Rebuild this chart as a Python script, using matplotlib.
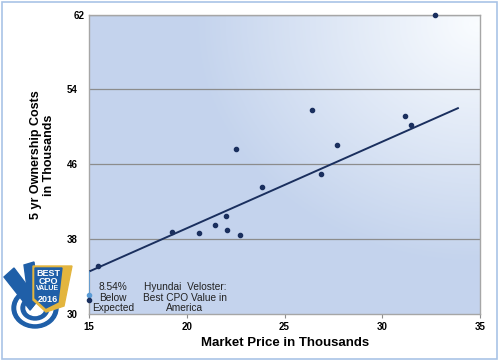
import numpy as np
import matplotlib
matplotlib.use('Agg')
import matplotlib.pyplot as plt
from matplotlib.patches import Rectangle, Polygon, Ellipse
from matplotlib.transforms import ScaledTranslation

plt.rcParams['font.family'] = ['Liberation Sans', 'DejaVu Sans']

# data
price = [15.0, 15.46, 19.24, 20.62, 21.47, 21.99, 22.07, 22.52, 22.74, 23.84,
         26.4, 26.85, 27.71, 31.17, 31.48, 32.7]
cost = [31.46, 35.1, 38.77, 38.58, 39.49, 40.49, 38.95, 47.57, 38.45, 43.6,
        51.8, 44.92, 48.0, 51.15, 50.23, 62.0]
trend_x = [15.0, 33.87]
trend_y = [34.5, 51.98]
gap_x = [15.0, 15.0]
gap_y = [34.5, 32.0]
x_ticks = [15, 20, 25, 30, 35]
y_ticks = [30, 38, 46, 54, 62]

fig = plt.figure(figsize=(5, 3.63), dpi=100)
fig.patch.set_facecolor('white')
fig.patches.append(Rectangle((0.004, 0.012), 0.99, 0.982, transform=fig.transFigure,
                             fill=False, edgecolor='#a9c3e6', linewidth=1.2))

ax = fig.add_axes([0.178, 0.136, 0.782, 0.824])
ax.set_xlim(15, 35)
ax.set_ylim(30, 62)

# gradient background, light at upper right
gx, gy = np.meshgrid(np.linspace(0, 1, 200), np.linspace(0, 1, 200))
d = np.sqrt(((gx - 1.0) * 1.1) ** 2 + (gy - 0.97) ** 2)
t = np.clip(d / 0.8, 0, 1)[..., None]
c0 = np.array([0.98, 0.99, 1.0])
c1 = np.array([0.77, 0.83, 0.93])
img = c0 * (1 - t) + c1 * t
ax.imshow(img, extent=[0, 1, 0, 1], transform=ax.transAxes, origin='lower',
          aspect='auto', zorder=0)

for yv in y_ticks[1:]:
    ax.axhline(yv, color='#8c8c8c', linewidth=0.9, zorder=1)

ax.plot(trend_x, trend_y, color='#1a2f5e', linewidth=1.4, zorder=3)
ax.plot(gap_x, gap_y, color='#5b9bd5', linewidth=1.2, zorder=3)
ax.plot([gap_x[1]], [gap_y[1]], 'o', color='#5b9bd5', markersize=3, zorder=4, clip_on=False)
ax.plot(price, cost, 'o', color='#1a2f5e', markersize=3, zorder=4, clip_on=False)

ax.set_xticks(x_ticks)
ax.set_yticks(y_ticks)
ax.tick_params(axis='x', direction='out', length=3, color='#8c8c8c', labelsize=7, pad=3)
ax.tick_params(axis='y', length=0, labelsize=7, pad=8)
for lab in ax.get_xticklabels() + ax.get_yticklabels():
    lab.set_fontweight('bold')
top_lab = ax.get_yticklabels()[-1]
top_lab.set_transform(top_lab.get_transform() + ScaledTranslation(0.07, 0, fig.dpi_scale_trans))
for s in ax.spines.values():
    s.set_color('#a6a6a6')
    s.set_linewidth(1.0)

ax.set_xlabel('Market Price in Thousands', fontsize=9.5, fontweight='bold')
ax.xaxis.set_label_coords(0.501, -0.098)
ax.xaxis.label.set_va('center')
ax.set_ylabel('5 yr Ownership Costs\nin Thousands', fontsize=9, fontweight='bold',
              linespacing=1.1)
ax.yaxis.set_label_coords(-0.12, 0.53)
ax.yaxis.label.set_va('center')

ax.text(16.23, 31.7, '8.54%\nBelow\nExpected', ha='center', va='center', fontsize=7.3,
        linespacing=1.05, color='#222222', zorder=5)
ax.text(19.9, 31.7, 'Hyundai  Veloster:\nBest CPO Value in\nAmerica', ha='center',
        va='center', fontsize=7.3, linespacing=1.05, color='#222222', zorder=5)

# badge logo (simplified), drawn in figure pixel units
bx = fig.add_axes([0.0, 1 - 330 / 363, 0.16, 80 / 363])
bx.set_xlim(0, 80)
bx.set_ylim(330, 250)
bx.axis('off')
blue = '#1f5fa8'
bx.add_patch(Ellipse((35, 308), 46, 40, color=blue))
bx.add_patch(Ellipse((35, 308), 36, 31, color='white'))
bx.add_patch(Ellipse((35, 308), 28, 24, color=blue))
bx.add_patch(Ellipse((35, 308), 18, 15, color='white'))
bx.add_patch(Polygon([[4, 277], [14, 268], [38, 300], [30, 310]], closed=True, color=blue))
bx.add_patch(Polygon([[24, 265], [34, 262], [38, 300], [30, 310]], closed=True, color=blue))
bx.add_patch(Polygon([[33, 266], [72, 266], [64, 306], [46, 312], [33, 300]], closed=True,
                     color='#e3b53e'))
bx.add_patch(Polygon([[35, 268], [62, 268], [58, 302], [46, 308], [35, 298]], closed=True,
                     color=blue))
bx.text(48, 273, 'BEST', color='white', fontsize=6.5, fontweight='bold', ha='center', va='center')
bx.text(48, 281, 'CPO', color='white', fontsize=6.5, fontweight='bold', ha='center', va='center')
bx.text(48, 289, 'VALUE', color='white', fontsize=5, fontweight='bold', ha='center', va='center')
bx.text(48, 299, '2016', color='white', fontsize=6.5, fontweight='bold', ha='center', va='center')

fig.savefig('out.png', dpi=100)
